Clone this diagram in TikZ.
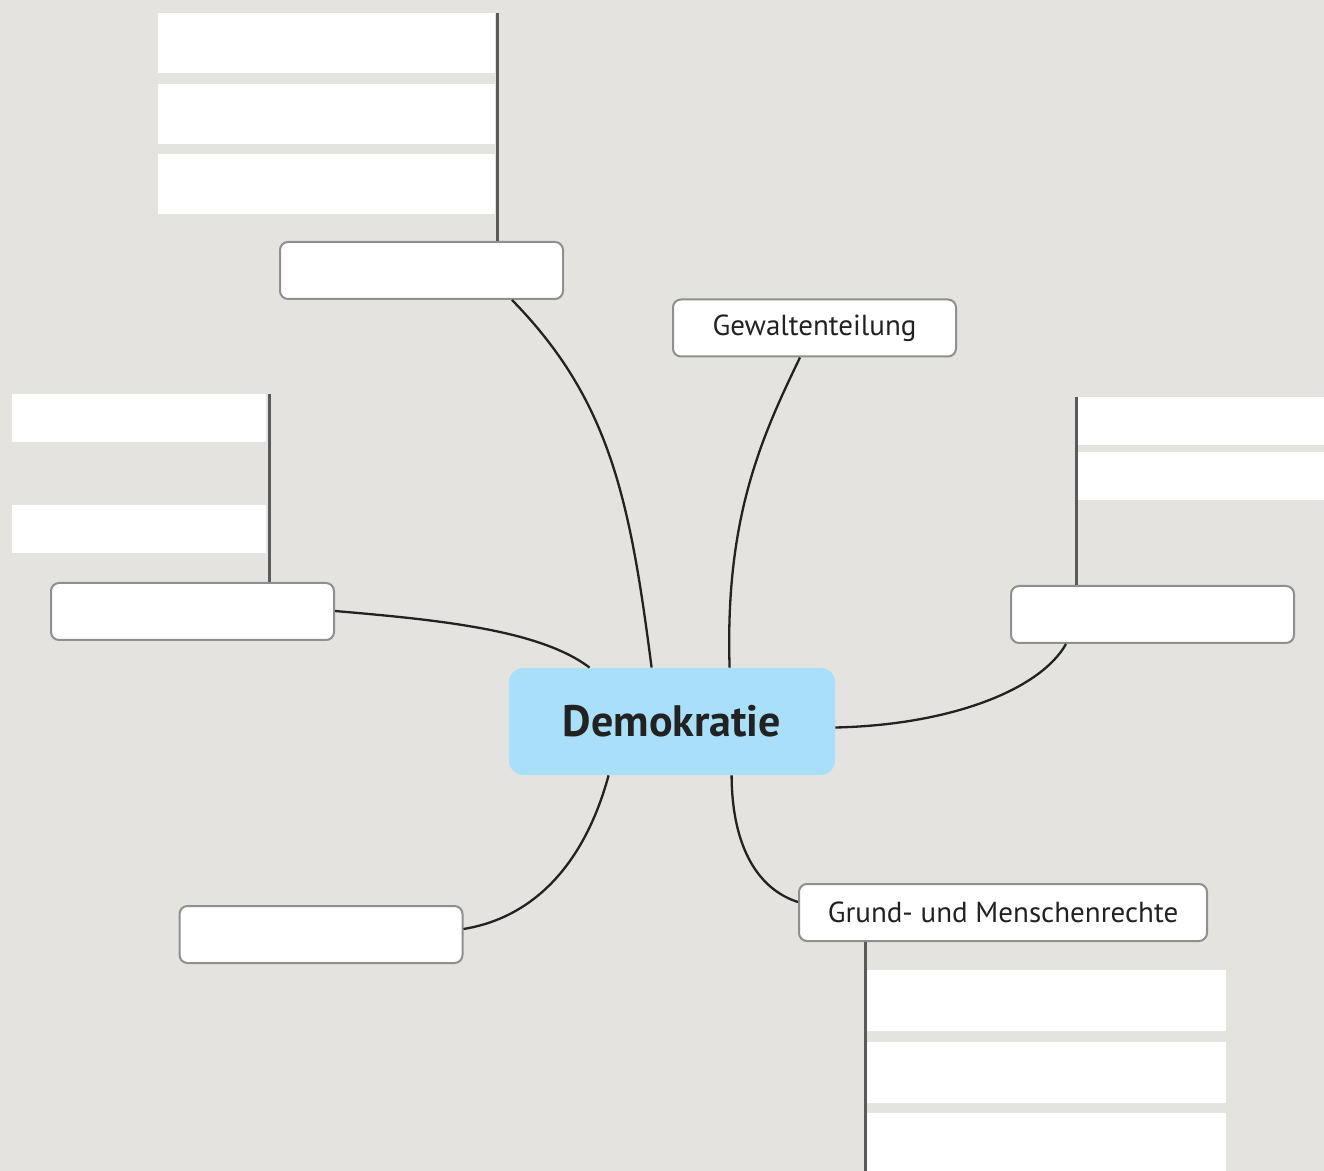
\documentclass[tikz,border=0pt]{standalone}
\usepackage{fontspec}
\setmainfont{PT Sans}
\usepackage{tikz}
\usetikzlibrary{calc}
\definecolor{bggrey}{HTML}{E5E3DF}
\definecolor{demoblue}{HTML}{A9DFF8}
\definecolor{boxrand}{HTML}{8F8F8F}
\definecolor{stemgrey}{HTML}{5A5A5A}
\definecolor{linkdark}{HTML}{222222}

\begin{document}
\begin{tikzpicture}[x=0.5pt, y=-0.5pt,
    mainbox/.style={fill=demoblue, rounded corners=7pt, inner sep=0pt,
      minimum width=163pt, minimum height=53.5pt, font=\bfseries\fontsize{22}{26}\selectfont, text=linkdark},
    topic/.style={draw=boxrand, line width=1pt, fill=white, rounded corners=4pt, inner sep=0pt,
      minimum width=141.5pt, minimum height=28.5pt, font=\fontsize{14.5}{17}\selectfont, text=linkdark},
    blank/.style={fill=white, inner sep=0pt, anchor=north west},
    stem/.style={draw=stemgrey, line width=1.5pt},
    link/.style={draw=linkdark, line width=1.15pt}]
  % Hintergrund
  \fill[bggrey] (0,0) rectangle (1324,1171);
  \useasboundingbox (0,0) rectangle (1324,1171);

  % leere Felder
  \node[blank, minimum width=168.5pt, minimum height=30pt] (tl1) at (158,13) {};
  \node[blank, minimum width=168.5pt, minimum height=30pt] (tl2) at (158,84) {};
  \node[blank, minimum width=168.5pt, minimum height=30pt] (tl3) at (158,154) {};
  \node[blank, minimum width=127pt, minimum height=24pt] (l1) at (12,394) {};
  \node[blank, minimum width=127pt, minimum height=24pt] (l2) at (12,505) {};
  \node[blank, minimum width=123pt, minimum height=24pt] (r1) at (1078,397) {};
  \node[blank, minimum width=123pt, minimum height=24pt] (r2) at (1078,452) {};
  \node[blank, minimum width=179.5pt, minimum height=30.5pt] (g1) at (867,970) {};
  \node[blank, minimum width=179.5pt, minimum height=30.5pt] (g2) at (867,1042) {};
  \node[blank, minimum width=179.5pt, minimum height=29pt] (g3) at (867,1113) {};

  % Knoten
  \node[mainbox] (demo) at (672,721.5) {Demokratie};
  \node[topic] (oben) at (421.5,270.5) {};
  \node[topic] (gewalt) at (814.5,328) {Gewaltenteilung};
  \node[topic] (links) at (192.5,611.5) {};
  \node[topic] (rechts) at (1152.5,614.5) {};
  \node[topic] (unten) at (321,934.5) {};
  \node[topic, minimum width=204pt] (grund) at (1003,912.5) {Grund- und Menschenrechte};

  % Stiele
  \coordinate (st1) at (497,13);
  \coordinate (st2) at (269,394);
  \coordinate (st3) at (1076,397);
  \coordinate (st4) at (865,1171);
  \draw[stem] (st1) -- (st1 |- oben.north);
  \draw[stem] (st2) -- (st2 |- links.north);
  \draw[stem] (st3) -- (st3 |- rechts.north);
  \draw[stem] (st4) -- (st4 |- grund.south);

  % Verbindungen
  \draw[link] ($(demo.north west)+(143,0)$) .. controls (630,500) and (610,400) .. ($(oben.south west)+(233,0)$);
  \draw[link] ($(demo.north west)+(221,0)$) .. controls (725,520) and (760,440) .. ($(gewalt.south west)+(128,0)$);
  \draw[link] ($(demo.north west)+(81,0)$) .. controls (540,630) and (440,620) .. ($(links.north east)+(0,29)$);
  \draw[link] ($(demo.east)+(0,6)$) .. controls (950,725) and (1040,690) .. ($(rechts.south west)+(56,0)$);
  \draw[link] ($(demo.south west)+(100,0)$) .. controls (580,880) and (520,920) .. ($(unten.north east)+(0,24)$);
  \draw[link] ($(demo.south west)+(223,0)$) .. controls (732,850) and (760,890) .. ($(grund.north west)+(0,19)$);
\end{tikzpicture}
\end{document}
